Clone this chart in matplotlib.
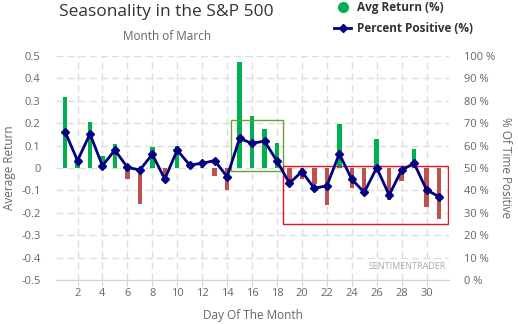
import numpy as np
import matplotlib
matplotlib.use('Agg')
import matplotlib.pyplot as plt
from matplotlib.patches import Rectangle
from matplotlib.lines import Line2D

plt.rcParams['font.family'] = ['Open Sans', 'DejaVu Sans']

days = list(range(1, 32))
avg_return = [0.318, 0.05, 0.207, 0.055, 0.107, -0.048, -0.16, 0.095, -0.045, 0.098,
              0.005, 0.004, -0.035, -0.10, 0.475, 0.232, 0.174, 0.112, -0.065, -0.05,
              -0.07, -0.165, 0.196, -0.088, -0.11, 0.13, -0.143, -0.06, 0.086, -0.175,
              -0.229]
pct_positive = [66.2, 53.3, 65.2, 51.0, 58.0, 50.3, 49.1, 56.1, 45.1, 58.0,
                51.3, 52.1, 53.3, 46.1, 63.2, 61.0, 62.0, 53.1, 43.2, 48.4,
                40.9, 42.1, 56.3, 45.0, 39.1, 50.1, 37.9, 49.1, 52.1, 40.2,
                37.2]
x_ticks = list(range(2, 31, 2))
left_ticks = [0.5, 0.4, 0.3, 0.2, 0.1, 0, -0.1, -0.2, -0.3, -0.4, -0.5]
right_ticks = list(range(0, 101, 10))

text_col = '#666666'
grid_col = '#dedede'

fig = plt.figure(figsize=(5.18, 3.24), dpi=100)
ax = fig.add_axes([0.108, 0.1358, 0.7588, 0.6914])

colors = ['#00b050' if v >= 0 else '#c0504d' for v in avg_return]
ax.bar(days, avg_return, width=0.36, color=colors, zorder=2)

ax.set_xlim(0.27, 31.8)
ax.set_ylim(-0.5, 0.5)
ax.set_yticks(left_ticks)
ax.set_yticklabels(['%g' % t for t in left_ticks])
ax.set_xticks(x_ticks)
ax.grid(True, color=grid_col, linestyle=(0, (5, 3)), linewidth=1.0, zorder=0)
ax.set_axisbelow(True)
for s in ['top', 'right', 'left']:
    ax.spines[s].set_visible(False)
ax.spines['bottom'].set_color('#c6d2e6')
ax.tick_params(axis='y', length=0, labelsize=8, labelcolor=text_col, pad=11)
ax.tick_params(axis='x', length=4, color='#c6d2e6', labelsize=8, labelcolor=text_col, pad=2)
ax.set_ylabel('Average Return', fontsize=8.5, color=text_col, labelpad=4)
ax.set_xlabel('Day Of The Month', fontsize=8.5, color=text_col, labelpad=7)

# highlight boxes
ax.add_patch(Rectangle((14.31, -0.013), 4.2, 0.227, fill=False,
                       edgecolor='#62a33a', linewidth=1.0, zorder=3))
ax.add_patch(Rectangle((18.51, -0.251), 13.21, 0.26, fill=False,
                       edgecolor='#e8131b', linewidth=1.0, zorder=3))

ax2 = ax.twinx()
ax2.plot(days, pct_positive, color='#000080', linewidth=2, marker='D',
         markersize=4.5, zorder=4)
ax2.set_ylim(0, 100)
ax2.set_yticks(right_ticks)
ax2.set_yticklabels(['%d %%' % t for t in right_ticks])
for s in ['top', 'right', 'left', 'bottom']:
    ax2.spines[s].set_visible(False)
ax2.tick_params(axis='y', length=0, labelsize=8, labelcolor=text_col, pad=11)
ax2.set_ylabel('% Of Time Positive', fontsize=8.5, color=text_col,
               rotation=270, labelpad=12)

ax2.text(31.55, -0.5 + 0.062, 'SENTIMENTRADER', fontsize=6.5, color='#aaaaaa',
         ha='right', va='center', transform=ax.transData)

fig.text(0.322, 0.962, 'Seasonality in the S&P 500', fontsize=12.5,
         color='#333333', ha='center', va='center')
fig.text(0.322, 0.886, 'Month of March', fontsize=8.5, color=text_col,
         ha='center', va='center')

handles = [Line2D([], [], marker='o', color='w', markerfacecolor='#00b050',
                  markersize=9, linestyle='None'),
           Line2D([], [], color='#000080', marker='D', markersize=4.5, linewidth=2)]
fig.legend(handles, ['Avg Return (%)', 'Percent Positive (%)'],
           loc='upper left', bbox_to_anchor=(0.625, 1.03), frameon=False,
           prop={'weight': 'bold', 'size': 8.5}, labelcolor='#333333',
           handlelength=1.4, handletextpad=0.5, labelspacing=0.7)

fig.savefig('out.png', dpi=100)
